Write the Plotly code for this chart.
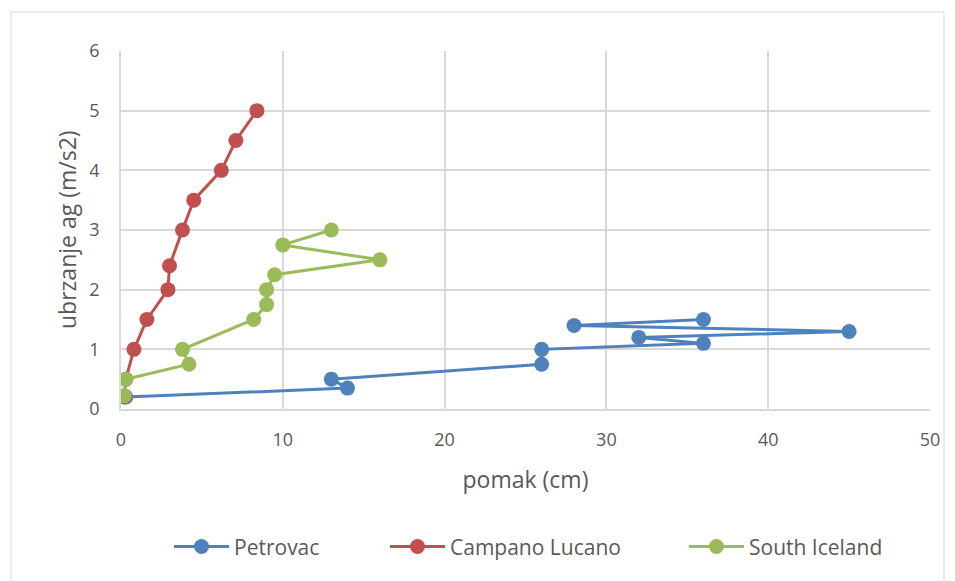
import plotly.graph_objects as go

petrovac_x = [0.3, 14, 13, 26, 26, 36, 32, 45, 28, 36]
petrovac_y = [0.2, 0.35, 0.5, 0.75, 1.0, 1.1, 1.2, 1.3, 1.4, 1.5]

campano_x = [0.2, 0.3, 0.8, 1.6, 2.9, 3.0, 3.8, 4.5, 6.2, 7.1, 8.4]
campano_y = [0.2, 0.5, 1.0, 1.5, 2.0, 2.4, 3.0, 3.5, 4.0, 4.5, 5.0]

iceland_x = [0.2, 0.3, 4.2, 3.8, 8.2, 9.0, 9.0, 9.5, 16.0, 10.0, 13.0]
iceland_y = [0.22, 0.5, 0.75, 1.0, 1.5, 1.75, 2.0, 2.25, 2.5, 2.75, 3.0]

x_ticks = [0, 10, 20, 30, 40, 50]
y_ticks = [0, 1, 2, 3, 4, 5, 6]

x_title = "pomak (cm)"
y_title = "ubrzanje ag (m/s2)"

FONT = "Open Sans"
TXT = "#595959"
GRID = "#d9d9d9"

series = [
    ("Petrovac", petrovac_x, petrovac_y, "#4f81bd", "legend"),
    ("Campano Lucano", campano_x, campano_y, "#c0504d", "legend2"),
    ("South Iceland", iceland_x, iceland_y, "#9bbb59", "legend3"),
]

fig = go.Figure()
for name, xs, ys, col, lg in series:
    fig.add_trace(go.Scatter(
        x=xs, y=ys, name=name, mode="lines+markers",
        line=dict(color=col, width=3),
        marker=dict(color=col, size=15),
        legend=lg,
    ))

PLOT_L, PLOT_R = 121, 930
PW = PLOT_R - PLOT_L

def px2paper(px):
    return (px - PLOT_L) / PW

leg_common = dict(orientation="h", y=-0.385, yanchor="middle", xanchor="left",
                  font=dict(size=21, color=TXT), bgcolor="rgba(0,0,0,0)", itemwidth=55)

fig.update_layout(
    width=955, height=581,
    margin=dict(l=113, r=33, t=43, b=180),
    paper_bgcolor="white", plot_bgcolor="white",
    font=dict(family=FONT, color=TXT, size=18),
    xaxis=dict(
        range=[0, 50], tickvals=x_ticks, showgrid=True, gridcolor=GRID, gridwidth=1.5,
        zeroline=False, showline=True, linecolor=GRID, linewidth=1.5,
        ticks="", ticklabelstandoff=14,
        title=dict(text=x_title, font=dict(size=23, color=TXT), standoff=22),
        tickfont=dict(size=18, color=TXT),
    ),
    yaxis=dict(
        range=[0, 6], tickvals=y_ticks, showgrid=True, gridcolor=GRID, gridwidth=1.5,
        zeroline=False, showline=True, linecolor=GRID, linewidth=1.5,
        ticks="", ticklabelstandoff=16,
        tickfont=dict(size=18, color=TXT),
    ),
    annotations=[dict(
        text=y_title, textangle=-90, xref="paper", yref="paper",
        x=px2paper(67), y=0.5, xanchor="center", yanchor="middle",
        showarrow=False, font=dict(size=23, color=TXT, family=FONT),
    )],
    legend=dict(x=px2paper(169), **leg_common),
    legend2=dict(x=px2paper(385), **leg_common),
    legend3=dict(x=px2paper(684), **leg_common),
    showlegend=True,
    shapes=[dict(
        type="rect", xref="paper", yref="paper",
        x0=-0.136, x1=1.0173, y0=-0.52, y1=1.109,
        line=dict(color="#d9d9d9", width=1), fillcolor="rgba(0,0,0,0)", layer="below",
    )],
)

fig.write_html("out.html")
